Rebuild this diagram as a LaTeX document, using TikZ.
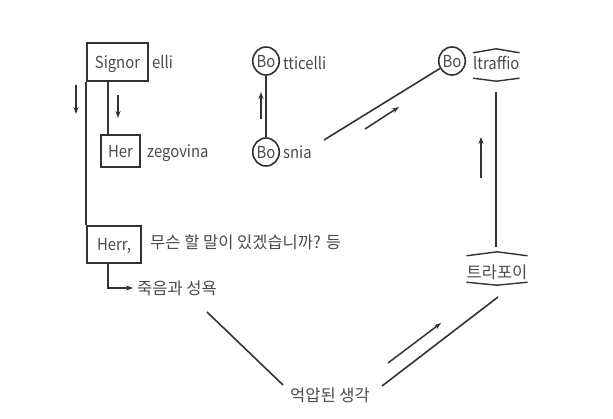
\documentclass[tikz,border=0pt]{standalone}
\usepackage{fontspec}
\newfontfamily\kr{Noto Sans CJK KR}
\newfontfamily\lat[FakeStretch=0.9]{Noto Sans CJK KR}
\usetikzlibrary{arrows.meta,shapes.geometric,calc}
\definecolor{ln}{HTML}{333333}
\definecolor{tx}{HTML}{4a4a4a}
\begin{document}
\begin{tikzpicture}[x=1pt,y=-1pt,
  every node/.style={font=\kr\fontsize{16.5}{19}\selectfont, text=tx},
  latin/.style={font=\lat\fontsize{16.5}{19}\selectfont},
  box/.style={latin, draw=ln, line width=1.8pt, inner sep=0pt, text height=12pt, text depth=0pt},
  ring/.style={latin, draw=ln, line width=1.6pt, ellipse, inner sep=0pt, minimum width=25.5pt, minimum height=28pt, text height=12pt, text depth=0pt},
  lbl/.style={inner sep=0pt, anchor=west, text height=12pt, text depth=0pt},
  llbl/.style={lbl, latin},
  ctr/.style={inner sep=0pt, text height=12pt, text depth=0pt},
  conn/.style={draw=ln, line width=1.6pt},
  flow/.style={draw=ln, line width=1.5pt, -{Stealth[length=7pt,width=5pt]}},
  hat/.style={draw=ln, line width=1.4pt}]
\useasboundingbox (0,0) rectangle (613,418);

% left column
\node[box, minimum width=61pt, minimum height=38pt] (sig) at (117.5,62) {Signor};
\node[llbl] (elli) at (152,62) {elli};
\node[box, minimum width=39pt, minimum height=32pt] (her) at (120.5,151) {Her};
\node[llbl] (zeg) at (147,151) {zegovina};
\node[box, minimum width=54pt, minimum height=37pt] (herr) at (114,244.5) {Herr,};
\node[lbl] (q) at (150,242) {무슨 할 말이 있겠습니까? 등};
\node[lbl] (death) at (137,288) {죽음과 성욕};

\draw[conn] (sig.south west) -- (herr.north west);
\draw[conn] ([xshift=22pt]sig.south west) -- ([xshift=22pt]sig.south west |- her.north);
\draw[flow] ([xshift=22pt]herr.south west) |- ([xshift=-4pt]death.west);

\coordinate (a1s) at (76,85); \coordinate (a1e) at (76,114);
\draw[flow] (a1s) -- (a1e);
\coordinate (a2s) at (118,95); \coordinate (a2e) at (118,118);
\draw[flow] (a2s) -- (a2e);

% middle column
\node[ring] (bott) at (266,61) {Bo};
\node[llbl] (tti) at (283,63) {tticelli};
\node[ring] (bos) at (266,152) {Bo};
\node[llbl] (snia) at (283,152) {snia};
\draw[conn] (bott) -- (bos);
\coordinate (a3s) at (261,119); \coordinate (a3e) at (261,92);
\draw[flow] (a3s) -- (a3e);

% right column
\node[ring] (bolt) at (452,61) {Bo};
\node[llbl] (ltr) at (473,63) {ltraffio};
\draw[hat] ($(ltr.north west)+(0,-4)$) -- ($(ltr.north)+(0,-8)$) -- ($(ltr.north east)+(0,-4)$);
\draw[hat] ($(ltr.south west)+(0,9)$) -- ($(ltr.south)+(0,12)$) -- ($(ltr.south east)+(0,9)$);

\coordinate (l1s) at (324,140);
\draw[conn] (l1s) -- (bolt);
\coordinate (a4s) at (365,129); \coordinate (a4e) at (399,107);
\draw[flow] (a4s) -- (a4e);

\node[ctr] (tra) at (497,272) {트라포이};
\draw[hat] ($(tra.north west)+(0,-10)$) -- ($(tra.north)+(0,-14)$) -- ($(tra.north east)+(0,-10)$);
\draw[hat] ($(tra.south west)+(0,4)$) -- ($(tra.south)+(0,7)$) -- ($(tra.south east)+(0,4)$);

\coordinate (v1s) at (496,92); \coordinate (v1e) at (496,247);
\draw[conn] (v1s) -- (v1e);
\coordinate (a5s) at (481,178); \coordinate (a5e) at (481,137);
\draw[flow] (a5s) -- (a5e);

% bottom
\node[ctr] (rep) at (330,395) {억압된 생각};
\coordinate (d1s) at (207,312); \coordinate (d1e) at (283,385);
\draw[conn] (d1s) -- (d1e);
\coordinate (d2s) at (498,297); \coordinate (d2e) at (382,386);
\draw[conn] (d2s) -- (d2e);
\coordinate (a6s) at (388,363); \coordinate (a6e) at (441,323);
\draw[flow] (a6s) -- (a6e);
\end{tikzpicture}
\end{document}
